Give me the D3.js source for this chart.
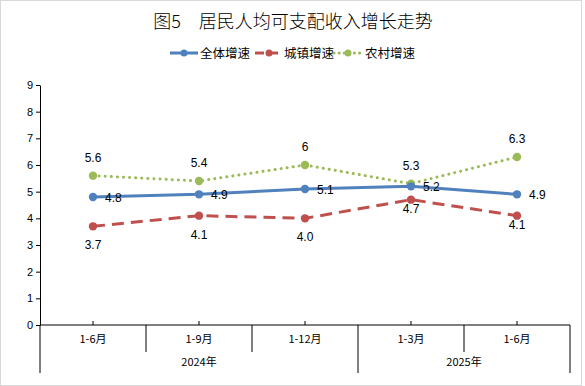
<!DOCTYPE html>
<html><head><meta charset="utf-8">
<script src="https://cdn.jsdelivr.net/npm/d3@7"></script>
<style>
html,body{margin:0;padding:0;background:#fff;}
svg{display:block;}
</style></head>
<body>
<script>
const categories = ["1-6月","1-9月","1-12月","1-3月","1-6月"];
const groups = [{name:"2024年", span:3},{name:"2025年", span:2}];
const overall = [4.8,4.9,5.1,5.2,4.9];
const urban = [3.7,4.1,4.0,4.7,4.1];
const rural = [5.6,5.4,6.0,5.3,6.3];
const ruralLabels = ["5.6","5.4","6","5.3","6.3"];
const overallLabels = ["4.8","4.9","5.1","5.2","4.9"];
const urbanLabels = ["3.7","4.1","4.0","4.7","4.1"];
const yTicks = [0,1,2,3,4,5,6,7,8,9];
const title = "图5　居民人均可支配收入增长走势";
const legendNames = ["全体增速","城镇增速","农村增速"];

const W=585,H=386;
const m={l:40,r:15,t:85,b:61};
const svg=d3.select("body").append("svg").attr("width",W).attr("height",H);
svg.append("rect").attr("x",0.5).attr("y",0.5).attr("width",581).attr("height",H-1)
  .attr("fill","#fff").attr("stroke","#d9d9d9");

const x=d3.scaleBand().domain(d3.range(categories.length)).range([m.l,W-m.r]);
const y=d3.scaleLinear().domain([0,9]).range([H-m.b,m.t]);
const cx=i=>x(i)+x.bandwidth()/2;
const font="'Liberation Sans',Arial,'Noto Sans CJK SC',sans-serif";
const cjk="'Noto Sans CJK SC','Microsoft YaHei',sans-serif";

svg.append("text").attr("x",293).attr("y",28).attr("text-anchor","middle")
  .attr("font-family",cjk).attr("font-size",18).attr("font-weight",300).attr("fill","#000").text(title);

// y axis
const ya=svg.append("g").attr("transform",`translate(${m.l},0)`)
  .call(d3.axisLeft(y).tickValues(yTicks).tickSize(4).tickSizeOuter(0).tickFormat(d3.format("d")));
ya.select(".domain").attr("stroke","#000");
ya.selectAll(".tick line").attr("stroke","#000");
ya.selectAll("text").attr("font-family",font).attr("font-size",11).attr("fill","#000").attr("x",-7);

// x axis
const y0=y(0);
const g=svg.append("g");
g.append("line").attr("x1",m.l).attr("x2",W-m.r).attr("y1",y0).attr("y2",y0).attr("stroke","#000");
categories.forEach((c,i)=>{
  g.append("line").attr("x1",cx(i)).attr("x2",cx(i)).attr("y1",y0).attr("y2",y0-4).attr("stroke","#000");
  g.append("text").attr("x",cx(i)).attr("y",y0+18).attr("text-anchor","middle")
   .attr("font-family",cjk).attr("font-size",11).attr("fill","#000").text(c);
});
let idx=0;
const bounds=[0];
groups.forEach(gr=>{ idx+=gr.span; bounds.push(idx); });
for(let i=1;i<categories.length;i++){
  const bx=x(i);
  const isGroup=bounds.includes(i);
  g.append("line").attr("x1",bx).attr("x2",bx).attr("y1",y0).attr("y2",isGroup?y0+48:y0+27).attr("stroke","#000");
}
[m.l,W-m.r].forEach(bx=>g.append("line").attr("x1",bx).attr("x2",bx).attr("y1",y0).attr("y2",y0+48).attr("stroke","#000"));
let start=0;
groups.forEach(gr=>{
  const x1=x(start), x2=x(start+gr.span-1)+x.bandwidth();
  g.append("text").attr("x",(x1+x2)/2).attr("y",y0+41).attr("text-anchor","middle")
   .attr("font-family",cjk).attr("font-size",11).attr("fill","#000").text(gr.name);
  start+=gr.span;
});

const series=[
  {name:legendNames[0],data:overall,labels:overallLabels,color:"#4f81bd",dash:null,cap:"butt",lp:"right"},
  {name:legendNames[1],data:urban,labels:urbanLabels,color:"#c0504d",dash:"12,7",cap:"butt",lp:"below"},
  {name:legendNames[2],data:rural,labels:ruralLabels,color:"#9bbb59",dash:"0.1,6",cap:"round",lp:"above"}
];
const line=d3.line().x((d,i)=>cx(i)).y(d=>y(d));
[series[2],series[1],series[0]].forEach(s=>{
  svg.append("path").datum(s.data).attr("d",line).attr("fill","none")
    .attr("stroke",s.color).attr("stroke-width",3).attr("stroke-dasharray",s.dash)
    .attr("stroke-linecap",s.cap);
  svg.selectAll(null).data(s.data).enter().append("circle")
    .attr("cx",(d,i)=>cx(i)).attr("cy",d=>y(d)).attr("r",4.2).attr("fill",s.color);
});
series.forEach(s=>{
  s.data.forEach((d,i)=>{
    let tx=cx(i), ty=y(d), anchor="middle";
    if(s.lp==="right"){ tx+=12; ty+=5; anchor="start"; }
    else if(s.lp==="above"){ ty-=14; }
    else { ty+= (i>=3?13:23); }
    svg.append("text").attr("x",tx).attr("y",ty).attr("text-anchor",anchor)
      .attr("font-family",font).attr("font-size",12).attr("fill","#000").text(s.labels[i]);
  });
});

// legend
const lg=svg.append("g");
const lx=[170,255,334], tx=[200,284,365];
series.forEach((s,i)=>{
  const x0=lx[i];
  lg.append("line").attr("x1",x0).attr("x2",x0+28).attr("y1",53).attr("y2",53)
    .attr("stroke",s.color).attr("stroke-width",3)
    .attr("stroke-dasharray",i===1?"9,5":(i===2?"0.1,5":null))
    .attr("stroke-linecap",i===2?"round":"butt");
  lg.append("circle").attr("cx",x0+14).attr("cy",53).attr("r",3.5).attr("fill",s.color);
  lg.append("text").attr("x",tx[i]).attr("y",58).attr("font-family",cjk).attr("font-size",12.5)
    .attr("fill","#000").text(s.name);
});
</script>
</body></html>
